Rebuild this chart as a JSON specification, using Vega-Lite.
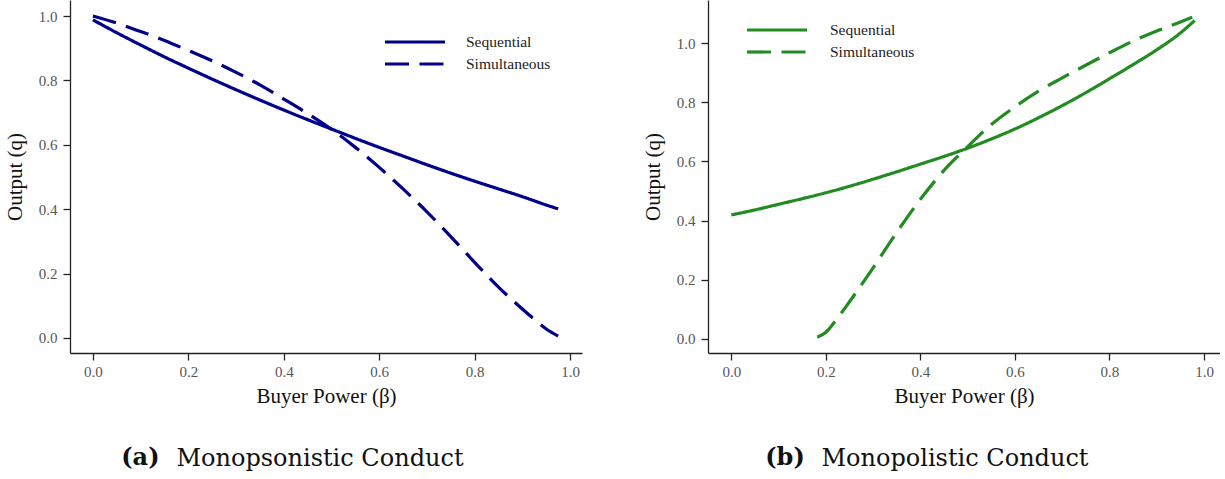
{
  "$schema": "https://vega.github.io/schema/vega-lite/v6.json",
  "padding": {"left": 4, "top": 0, "right": 0, "bottom": 0},
  "autosize": {"type": "pad"},
  "background": "white",
  "config": {
    "view": {"stroke": null},
    "font": "Liberation Serif",
    "axis": {
      "grid": false,
      "domainColor": "#222",
      "domainWidth": 1.3,
      "tickColor": "#222",
      "tickWidth": 1.3,
      "tickSize": 7,
      "labelFont": "Liberation Serif",
      "labelFontSize": 15,
      "labelColor": "#555",
      "titleFont": "Liberation Serif",
      "titleFontSize": 21,
      "titleFontWeight": "normal",
      "titleColor": "#111"
    },
    "axisX": {"labelPadding": 4, "titlePadding": 6},
    "axisY": {"labelPadding": 6, "titlePadding": 13},
    "legend": {"padding": 0}
  },
  "datasets": {
    "a": [
      {"beta": 0.0, "q": 0.988, "type": "Sequential"},
      {"beta": 0.05, "q": 0.948, "type": "Sequential"},
      {"beta": 0.1, "q": 0.910, "type": "Sequential"},
      {"beta": 0.15, "q": 0.873, "type": "Sequential"},
      {"beta": 0.2, "q": 0.838, "type": "Sequential"},
      {"beta": 0.25, "q": 0.804, "type": "Sequential"},
      {"beta": 0.3, "q": 0.771, "type": "Sequential"},
      {"beta": 0.35, "q": 0.739, "type": "Sequential"},
      {"beta": 0.4, "q": 0.708, "type": "Sequential"},
      {"beta": 0.45, "q": 0.678, "type": "Sequential"},
      {"beta": 0.5, "q": 0.649, "type": "Sequential"},
      {"beta": 0.55, "q": 0.620, "type": "Sequential"},
      {"beta": 0.6, "q": 0.592, "type": "Sequential"},
      {"beta": 0.65, "q": 0.565, "type": "Sequential"},
      {"beta": 0.7, "q": 0.538, "type": "Sequential"},
      {"beta": 0.75, "q": 0.512, "type": "Sequential"},
      {"beta": 0.8, "q": 0.487, "type": "Sequential"},
      {"beta": 0.85, "q": 0.463, "type": "Sequential"},
      {"beta": 0.9, "q": 0.439, "type": "Sequential"},
      {"beta": 0.95, "q": 0.413, "type": "Sequential"},
      {"beta": 0.975, "q": 0.401, "type": "Sequential"},
      {"beta": 0.0, "q": 1.0, "type": "Simultaneous"},
      {"beta": 0.05, "q": 0.978, "type": "Simultaneous"},
      {"beta": 0.1, "q": 0.952, "type": "Simultaneous"},
      {"beta": 0.15, "q": 0.924, "type": "Simultaneous"},
      {"beta": 0.2, "q": 0.893, "type": "Simultaneous"},
      {"beta": 0.25, "q": 0.861, "type": "Simultaneous"},
      {"beta": 0.3, "q": 0.825, "type": "Simultaneous"},
      {"beta": 0.35, "q": 0.786, "type": "Simultaneous"},
      {"beta": 0.4, "q": 0.742, "type": "Simultaneous"},
      {"beta": 0.45, "q": 0.697, "type": "Simultaneous"},
      {"beta": 0.5, "q": 0.648, "type": "Simultaneous"},
      {"beta": 0.55, "q": 0.592, "type": "Simultaneous"},
      {"beta": 0.6, "q": 0.530, "type": "Simultaneous"},
      {"beta": 0.65, "q": 0.463, "type": "Simultaneous"},
      {"beta": 0.7, "q": 0.392, "type": "Simultaneous"},
      {"beta": 0.75, "q": 0.315, "type": "Simultaneous"},
      {"beta": 0.8, "q": 0.235, "type": "Simultaneous"},
      {"beta": 0.85, "q": 0.158, "type": "Simultaneous"},
      {"beta": 0.9, "q": 0.090, "type": "Simultaneous"},
      {"beta": 0.925, "q": 0.058, "type": "Simultaneous"},
      {"beta": 0.95, "q": 0.028, "type": "Simultaneous"},
      {"beta": 0.975, "q": 0.006, "type": "Simultaneous"}
    ],
    "b": [
      {"beta": 0.0, "q": 0.419, "type": "Sequential"},
      {"beta": 0.05, "q": 0.436, "type": "Sequential"},
      {"beta": 0.1, "q": 0.455, "type": "Sequential"},
      {"beta": 0.15, "q": 0.474, "type": "Sequential"},
      {"beta": 0.2, "q": 0.494, "type": "Sequential"},
      {"beta": 0.25, "q": 0.516, "type": "Sequential"},
      {"beta": 0.3, "q": 0.540, "type": "Sequential"},
      {"beta": 0.35, "q": 0.565, "type": "Sequential"},
      {"beta": 0.4, "q": 0.591, "type": "Sequential"},
      {"beta": 0.45, "q": 0.617, "type": "Sequential"},
      {"beta": 0.5, "q": 0.645, "type": "Sequential"},
      {"beta": 0.55, "q": 0.676, "type": "Sequential"},
      {"beta": 0.6, "q": 0.710, "type": "Sequential"},
      {"beta": 0.65, "q": 0.748, "type": "Sequential"},
      {"beta": 0.7, "q": 0.789, "type": "Sequential"},
      {"beta": 0.75, "q": 0.833, "type": "Sequential"},
      {"beta": 0.8, "q": 0.880, "type": "Sequential"},
      {"beta": 0.85, "q": 0.928, "type": "Sequential"},
      {"beta": 0.9, "q": 0.978, "type": "Sequential"},
      {"beta": 0.95, "q": 1.035, "type": "Sequential"},
      {"beta": 0.98, "q": 1.077, "type": "Sequential"},
      {"beta": 0.182, "q": 0.005, "type": "Simultaneous"},
      {"beta": 0.2, "q": 0.022, "type": "Simultaneous"},
      {"beta": 0.22, "q": 0.060, "type": "Simultaneous"},
      {"beta": 0.25, "q": 0.125, "type": "Simultaneous"},
      {"beta": 0.3, "q": 0.240, "type": "Simultaneous"},
      {"beta": 0.35, "q": 0.360, "type": "Simultaneous"},
      {"beta": 0.4, "q": 0.472, "type": "Simultaneous"},
      {"beta": 0.45, "q": 0.570, "type": "Simultaneous"},
      {"beta": 0.5, "q": 0.650, "type": "Simultaneous"},
      {"beta": 0.55, "q": 0.725, "type": "Simultaneous"},
      {"beta": 0.6, "q": 0.785, "type": "Simultaneous"},
      {"beta": 0.65, "q": 0.838, "type": "Simultaneous"},
      {"beta": 0.7, "q": 0.883, "type": "Simultaneous"},
      {"beta": 0.75, "q": 0.926, "type": "Simultaneous"},
      {"beta": 0.8, "q": 0.968, "type": "Simultaneous"},
      {"beta": 0.85, "q": 1.008, "type": "Simultaneous"},
      {"beta": 0.9, "q": 1.042, "type": "Simultaneous"},
      {"beta": 0.95, "q": 1.072, "type": "Simultaneous"},
      {"beta": 0.975, "q": 1.088, "type": "Simultaneous"}
    ]
  },
  "spacing": 60,
  "resolve": {"scale": {"x": "independent", "y": "independent", "strokeDash": "independent"}, "legend": {"strokeDash": "independent"}},
  "hconcat": [
    {
      "title": {"text": "(a)", "orient": "bottom", "anchor": "start", "frame": "bounds", "font": "DejaVu Serif", "fontSize": 24, "fontWeight": "bold", "color": "#111", "dx": 117, "dy": -25, "offset": 0},
      "resolve": {"scale": {"strokeDash": "independent"}, "legend": {"strokeDash": "independent"}},
      "vconcat": [
        {
          "width": 512,
          "height": 353,
          "title": {"text": "Monopsonistic Conduct", "orient": "bottom", "anchor": "middle", "frame": "group", "font": "DejaVu Serif", "fontSize": 24, "fontWeight": "normal", "color": "#111", "dx": -6, "offset": 41},
          "data": {"name": "a"},
          "mark": {"type": "line", "color": "#00008B", "strokeWidth": 3.2, "interpolate": "monotone", "strokeCap": "butt"},
          "encoding": {
            "x": {"field": "beta", "type": "quantitative", "scale": {"domain": [-0.048, 1.025], "nice": false, "zero": false}, "axis": {"values": [0, 0.2, 0.4, 0.6, 0.8, 1.0], "format": ".1f", "title": "Buyer Power (β)"}},
            "y": {"field": "q", "type": "quantitative", "scale": {"domain": [-0.0466, 1.0497], "nice": false, "zero": false}, "axis": {"values": [0, 0.2, 0.4, 0.6, 0.8, 1.0], "format": ".1f", "title": "Output (q)"}},
            "strokeDash": {"field": "type", "type": "nominal", "scale": {"domain": ["Sequential", "Simultaneous"], "range": [[1, 0], [24, 10.5]]}, "legend": {"title": null, "orient": "none", "legendX": 333, "legendY": 30, "symbolType": "M-3,0L3,0", "symbolSize": 400, "symbolStrokeWidth": 3.2, "symbolStrokeColor": "#00008B", "symbolFillColor": "transparent", "labelFont": "Liberation Serif", "labelFontSize": 15.5, "labelColor": "#222", "labelOffset": 39, "rowPadding": 1}}
          }
        }
      ]
    },
    {
      "title": {"text": "(b)", "orient": "bottom", "anchor": "start", "frame": "bounds", "font": "DejaVu Serif", "fontSize": 24, "fontWeight": "bold", "color": "#111", "dx": 123, "dy": -25, "offset": 0},
      "resolve": {"scale": {"strokeDash": "independent"}, "legend": {"strokeDash": "independent"}},
      "vconcat": [
        {
          "width": 512,
          "height": 353,
          "title": {"text": "Monopolistic Conduct", "orient": "bottom", "anchor": "middle", "frame": "group", "font": "DejaVu Serif", "fontSize": 24, "fontWeight": "normal", "color": "#111", "dx": -9, "offset": 41},
          "data": {"name": "b"},
          "mark": {"type": "line", "color": "#228B22", "strokeWidth": 3.2, "interpolate": "monotone", "strokeCap": "butt"},
          "encoding": {
            "x": {"field": "beta", "type": "quantitative", "scale": {"domain": [-0.0493, 1.0338], "nice": false, "zero": false}, "axis": {"values": [0, 0.2, 0.4, 0.6, 0.8, 1.0], "format": ".1f", "title": "Buyer Power (β)"}},
            "y": {"field": "q", "type": "quantitative", "scale": {"domain": [-0.0484, 1.1466], "nice": false, "zero": false}, "axis": {"values": [0, 0.2, 0.4, 0.6, 0.8, 1.0], "format": ".1f", "title": "Output (q)"}},
            "strokeDash": {"field": "type", "type": "nominal", "scale": {"domain": ["Sequential", "Simultaneous"], "range": [[1, 0], [24, 10.5]]}, "legend": {"title": null, "orient": "none", "legendX": 57, "legendY": 18, "symbolType": "M-3,0L3,0", "symbolSize": 400, "symbolStrokeWidth": 3.2, "symbolStrokeColor": "#228B22", "symbolFillColor": "transparent", "labelFont": "Liberation Serif", "labelFontSize": 15.5, "labelColor": "#222", "labelOffset": 41, "rowPadding": 1}}
          }
        }
      ]
    }
  ]
}
